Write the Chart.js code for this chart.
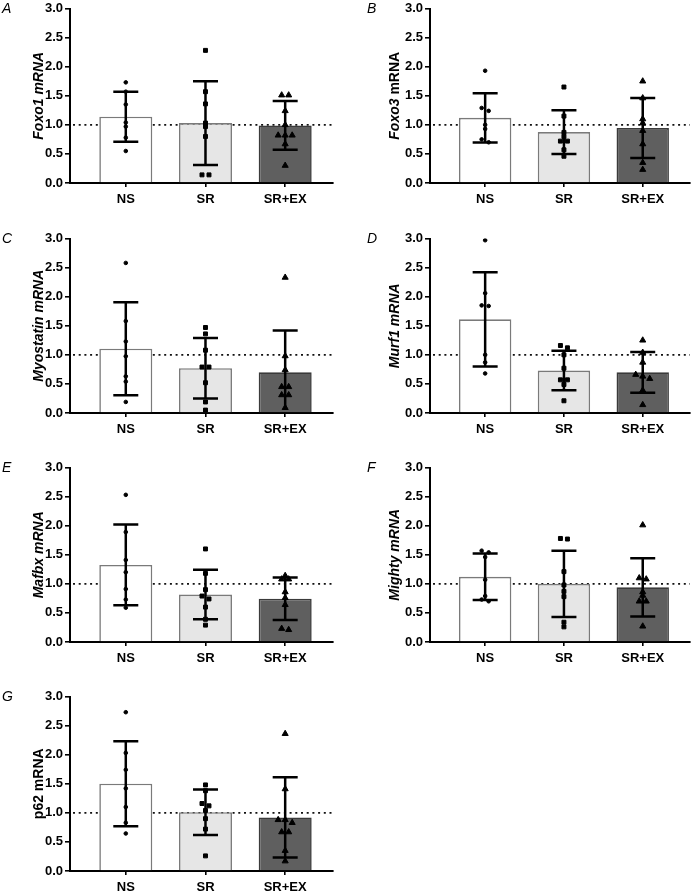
<!DOCTYPE html>
<html><head><meta charset="utf-8">
<script src="https://cdn.jsdelivr.net/npm/chart.js@4.4.1/dist/chart.umd.min.js"></script>
<style>
html,body{margin:0;padding:0;background:#fff;}
#wrap{position:relative;width:700px;height:892px;overflow:hidden;}
.panel{position:absolute;width:350px;height:222px;}
</style></head><body><div id="wrap"></div>
<script>
// ---------- data ----------
const categories = ['NS', 'SR', 'SR+EX'];
const yTickValues = [0, 0.5, 1.0, 1.5, 2.0, 2.5, 3.0];
const referenceLevel = 1.0;

const foxo1Mean = [1.14, 1.03, 0.99];
const foxo1Sd   = [0.43, 0.72, 0.42];
const foxo1NS   = [1.73, 1.57, 1.35, 1.04, 0.97, 0.78, 0.55];
const foxo1SR   = [2.28, 1.57, 1.36, 1.03, 0.97, 0.80, 0.14, 0.14];
const foxo1SREX = [1.51, 1.51, 1.24, 1.00, 0.82, 0.82, 0.82, 0.67, 0.30];

const foxo3Mean = [1.12, 0.875, 0.945];
const foxo3Sd   = [0.425, 0.375, 0.515];
const foxo3NS   = [1.93, 1.29, 1.24, 1.00, 0.93, 0.75, 0.70];
const foxo3SR   = [1.65, 1.15, 0.87, 0.80, 0.72, 0.72, 0.57, 0.46];
const foxo3SREX = [1.75, 1.46, 1.10, 1.03, 0.90, 0.67, 0.35, 0.23];

const myoMean = [1.105, 0.77, 0.70];
const myoSd   = [0.80, 0.52, 0.72];
const myoNS   = [2.58, 1.58, 1.23, 0.975, 0.63, 0.54, 0.19];
const myoSR   = [1.47, 1.36, 1.08, 0.79, 0.79, 0.52, 0.19, 0.05];
const myoSREX = [2.33, 0.98, 0.74, 0.45, 0.45, 0.31, 0.31, 0.09];

const murf1Mean = [1.61, 0.73, 0.70];
const murf1Sd   = [0.81, 0.34, 0.35];
const murf1NS   = [2.97, 2.06, 1.85, 1.84, 1.00, 0.87, 0.68];
const murf1SR   = [1.16, 1.12, 1.00, 0.77, 0.57, 0.57, 0.49, 0.21];
const murf1SREX = [1.25, 1.04, 0.87, 0.66, 0.63, 0.59, 0.39, 0.14];

const mafbxMean = [1.325, 0.815, 0.745];
const mafbxSd   = [0.695, 0.425, 0.365];
const mafbxNS   = [2.53, 1.89, 1.41, 1.20, 0.91, 0.73, 0.59];
const mafbxSR   = [1.60, 1.18, 0.90, 0.79, 0.74, 0.60, 0.39, 0.29];
const mafbxSREX = [1.14, 1.08, 1.08, 0.86, 0.76, 0.64, 0.23, 0.21];

const mightyMean = [1.12, 1.00, 0.94];
const mightySd   = [0.40, 0.57, 0.50];
const mightyNS   = [1.57, 1.54, 1.46, 1.07, 0.79, 0.73, 0.70];
const mightySR   = [1.78, 1.77, 1.21, 0.98, 0.87, 0.78, 0.34, 0.26];
const mightySREX = [2.01, 1.10, 1.08, 0.86, 0.80, 0.70, 0.70, 0.27];

const p62Mean = [1.50, 1.01, 0.92];
const p62Sd   = [0.73, 0.39, 0.69];
const p62NS   = [2.73, 2.03, 1.74, 1.42, 1.10, 0.83, 0.645];
const p62SR   = [1.48, 1.38, 1.16, 1.12, 1.04, 0.90, 0.72, 0.26];
const p62SREX = [2.36, 1.41, 0.88, 0.88, 0.83, 0.67, 0.67, 0.35, 0.17];

// ---------- panels ----------
const panels = [
  {letter:'A', title:[['Foxo1 mRNA', true]], mean:foxo1Mean, sd:foxo1Sd, pts:[foxo1NS, foxo1SR, foxo1SREX], col:0, row:0},
  {letter:'B', title:[['Foxo3', true], [' mRNA', false]], mean:foxo3Mean, sd:foxo3Sd, pts:[foxo3NS, foxo3SR, foxo3SREX], col:1, row:0},
  {letter:'C', title:[['Myostatin mRNA', true]], mean:myoMean, sd:myoSd, pts:[myoNS, myoSR, myoSREX], col:0, row:1},
  {letter:'D', title:[['Murf1 mRNA', true]], mean:murf1Mean, sd:murf1Sd, pts:[murf1NS, murf1SR, murf1SREX], col:1, row:1},
  {letter:'E', title:[['Mafbx mRNA', true]], mean:mafbxMean, sd:mafbxSd, pts:[mafbxNS, mafbxSR, mafbxSREX], col:0, row:2},
  {letter:'F', title:[['Mighty mRNA', true]], mean:mightyMean, sd:mightySd, pts:[mightyNS, mightySR, mightySREX], col:1, row:2},
  {letter:'G', title:[['p62 mRNA', false]], mean:p62Mean, sd:p62Sd, pts:[p62NS, p62SR, p62SREX], col:0, row:3}
];

// ---------- layout / style ----------
const FONT = '"Liberation Sans", Arial, Helvetica, sans-serif';
const colLeft = [0, 350];
const rowTop = [0, 230, 459, 688];
const yAxisW = [70, 80];
const rightPad = [17, 10];
const titleX = [39, 45.5];
const letterX = [2, 17];
const TOP_PAD = 7, X_AXIS_H = 39, CANVAS_W = 350, CANVAS_H = 222;
const X_MIN = -0.7, X_MAX = 2.6;
const barFill = ['#ffffff', '#e6e6e6', '#5f5f5f'];
const barBorder = ['#7a7a7a', '#7a7a7a', '#3a3a3a'];
const markerStyle = ['circle', 'rect', 'triangle'];
const markerRadius = [1.8, 2.8, 3.5];
const SPREAD_PX = 7, CLUSTER_GAP = 0.055;

// beeswarm-like horizontal spread of points with near-equal values
function swarm(values, groupIdx, pxPerX) {
  const order = values.map((v, i) => i).sort((a, b) => values[b] - values[a]);
  const clusters = [];
  order.forEach(i => {
    const last = clusters[clusters.length - 1];
    if (last && values[last[last.length - 1]] - values[i] < CLUSTER_GAP) last.push(i);
    else clusters.push([i]);
  });
  const out = [];
  clusters.forEach(cl => {
    cl.forEach((i, k) => {
      const off = (k - (cl.length - 1) / 2) * SPREAD_PX / pxPerX;
      out.push({x: groupIdx + off, y: values[i]});
    });
  });
  return out;
}

function makePlugin(p) {
  return {
    id: 'panelDeco' + p.letter,
    beforeDatasetsDraw(chart) {
      const {ctx, chartArea, scales: {y}} = chart;
      const yy = y.getPixelForValue(referenceLevel);
      ctx.save();
      ctx.strokeStyle = '#111';
      ctx.lineWidth = 1.6;
      ctx.setLineDash([2, 3.7]);
      ctx.beginPath();
      ctx.moveTo(chartArea.left + 3, yy);
      ctx.lineTo(chartArea.right, yy);
      ctx.stroke();
      ctx.restore();
    },
    afterDatasetDraw(chart, args) {
      if (args.meta.type !== 'bar') return;
      const {ctx, chartArea, scales: {x, y}} = chart;
      ctx.save();
      ctx.beginPath();
      ctx.rect(chartArea.left, chartArea.top - 5, chartArea.width, chartArea.height + 0.5);
      ctx.clip();
      ctx.strokeStyle = '#000';
      ctx.lineWidth = 2.5;
      p.mean.forEach((m, i) => {
        const cx = x.getPixelForValue(i);
        const t = y.getPixelForValue(m + p.sd[i]);
        const b = y.getPixelForValue(m - p.sd[i]);
        ctx.beginPath();
        ctx.moveTo(cx, t); ctx.lineTo(cx, b);
        ctx.moveTo(cx - 12.5, t); ctx.lineTo(cx + 12.5, t);
        ctx.moveTo(cx - 12.5, b); ctx.lineTo(cx + 12.5, b);
        ctx.stroke();
      });
      ctx.restore();
    },
    afterDraw(chart) {
      const {ctx, chartArea} = chart;
      ctx.save();
      ctx.fillStyle = '#000';
      ctx.font = 'italic 14px ' + FONT;
      ctx.textBaseline = 'alphabetic';
      ctx.textAlign = 'left';
      ctx.fillText(p.letter, letterX[p.col], 13);
      // rotated y title with mixed styles
      const fonts = p.title.map(s => (s[1] ? 'italic ' : '') + 'bold 14px ' + FONT);
      let total = 0;
      const widths = p.title.map((s, k) => { ctx.font = fonts[k]; const w = ctx.measureText(s[0]).width; total += w; return w; });
      ctx.translate(titleX[p.col], (chartArea.top + chartArea.bottom) / 2);
      ctx.rotate(-Math.PI / 2);
      ctx.textBaseline = 'middle';
      let cx = -total / 2;
      p.title.forEach((s, k) => { ctx.font = fonts[k]; ctx.fillText(s[0], cx, 0); cx += widths[k]; });
      ctx.restore();
    }
  };
}

const wrap = document.getElementById('wrap');
panels.forEach(p => {
  const div = document.createElement('div');
  div.className = 'panel';
  div.style.left = colLeft[p.col] + 'px';
  div.style.top = rowTop[p.row] + 'px';
  const cv = document.createElement('canvas');
  cv.width = CANVAS_W; cv.height = CANVAS_H;
  cv.style.width = CANVAS_W + 'px'; cv.style.height = CANVAS_H + 'px';
  div.appendChild(cv);
  wrap.appendChild(div);

  const plotW = CANVAS_W - yAxisW[p.col] - rightPad[p.col];
  const pxPerX = plotW / (X_MAX - X_MIN);

  const datasets = [{
    type: 'bar',
    data: p.mean.map((m, i) => ({x: i, y: m})),
    backgroundColor: barFill,
    borderColor: barBorder,
    borderWidth: 1.6,
    barPercentage: 0.665,
    categoryPercentage: 1,
    order: 2
  }];
  p.pts.forEach((vals, g) => {
    datasets.push({
      type: 'scatter',
      data: swarm(vals, g, pxPerX),
      pointStyle: markerStyle[g],
      pointRadius: markerRadius[g],
      pointBackgroundColor: '#000',
      pointBorderColor: '#000',
      pointBorderWidth: 1,
      showLine: false,
      order: 1
    });
  });

  const tickFont = {family: FONT, size: 13, weight: 'bold', lineHeight: 1.0};
  new Chart(cv, {
    type: 'bar',
    data: {datasets},
    plugins: [makePlugin(p)],
    options: {
      responsive: false,
      animation: false,
      devicePixelRatio: 1,
      layout: {padding: {left: 0, right: rightPad[p.col], top: TOP_PAD, bottom: 0}},
      plugins: {legend: {display: false}, tooltip: {enabled: false}},
      scales: {
        x: {
          type: 'linear', min: X_MIN, max: X_MAX, offset: false,
          afterBuildTicks: s => { s.ticks = categories.map((c, i) => ({value: i})); },
          afterFit: s => { s.height = X_AXIS_H; },
          ticks: {callback: v => categories[v] !== undefined ? categories[v] : '', font: {family: FONT, size: 13, weight: 'bold'},
                  color: '#000', padding: 5, maxRotation: 0, autoSkip: false},
          grid: {display: true, drawOnChartArea: false, drawTicks: true, tickLength: 4, color: '#000', lineWidth: 1.6, offset: false},
          border: {display: true, color: '#000', width: 2}
        },
        y: {
          type: 'linear', min: 0, max: 3,
          afterBuildTicks: s => { s.ticks = yTickValues.map(v => ({value: v})); },
          afterFit: s => { s.width = yAxisW[p.col]; },
          ticks: {callback: v => Number(v).toFixed(1), font: tickFont, color: '#000', padding: 2},
          grid: {display: true, drawOnChartArea: false, drawTicks: true, tickLength: 5, color: '#000', lineWidth: 1.6},
          border: {display: true, color: '#000', width: 2}
        }
      }
    }
  });
});
</script>
</body></html>
